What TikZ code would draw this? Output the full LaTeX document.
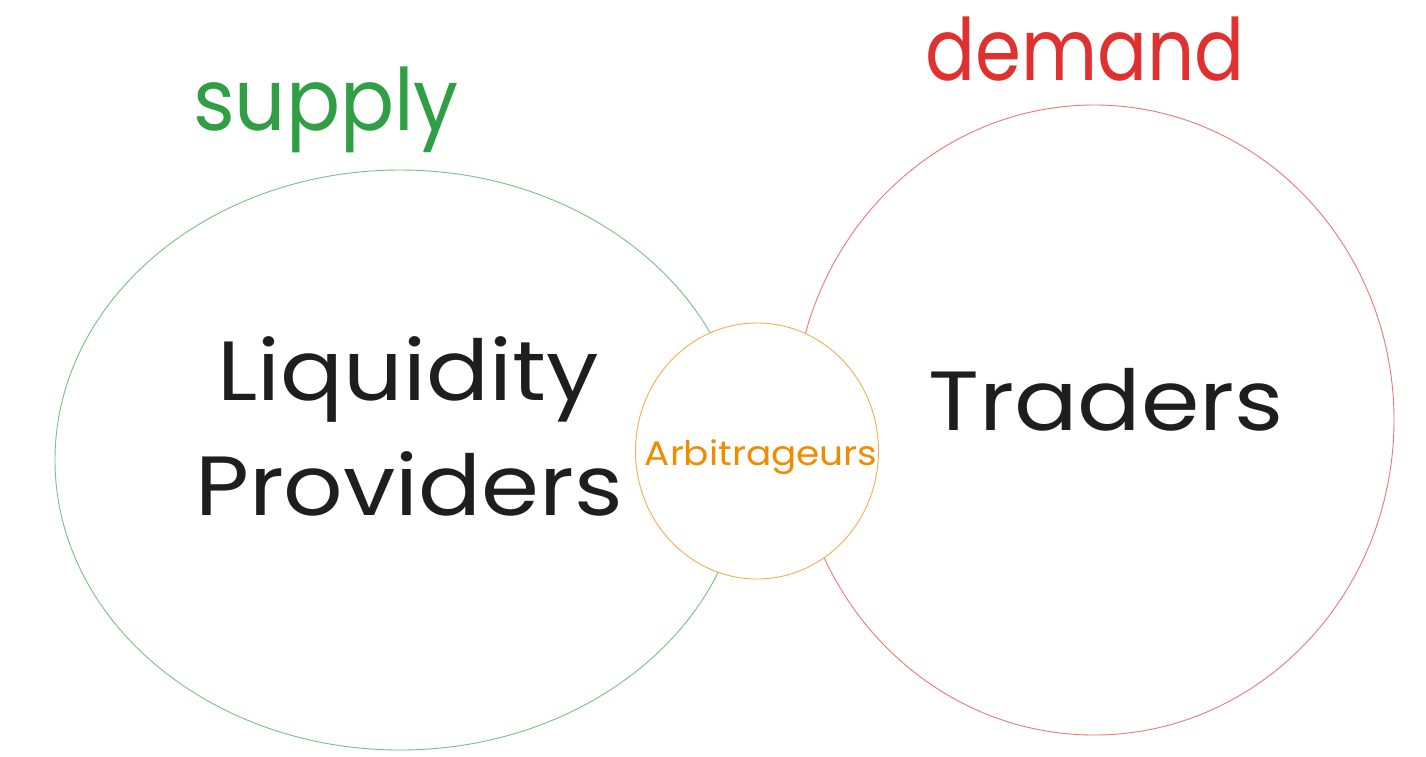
\documentclass[tikz,border=0pt]{standalone}
\usepackage{fontspec}
\setmainfont{Poppins}
\usetikzlibrary{shapes.geometric}
\definecolor{exgreen}{HTML}{2F9E44}
\definecolor{exred}{HTML}{E03131}
\definecolor{exorange}{HTML}{F08C00}
\definecolor{exblack}{HTML}{1E1E1E}
\newcommand{\hsc}[2]{\scalebox{#1}[1]{#2}}
\tikzset{
  ring/.style={ellipse, draw, line width=0.9pt, inner sep=0pt},
  bigtxt/.style={anchor=base, text=exblack, font=\fontsize{84}{100}\selectfont},
  headtxt/.style={anchor=base, font=\fontsize{86}{100}\selectfont},
}
\begin{document}
\begin{tikzpicture}[x=1pt,y=-1pt]
\useasboundingbox (0,0) rectangle (1426,756);
\fill[white] (0,0) rectangle (1426,756);
\node[ring, draw=exgreen!65, minimum width=690pt, minimum height=580pt] (lp) at (400,460) {};
\node[ring, draw=exred!65, minimum width=600pt, minimum height=630pt] (tr) at (1094,420) {};
\node[ring, draw=exorange!70, fill=white, minimum width=243pt, minimum height=256pt] (ar) at (757,451) {};
\node[headtxt, text=exgreen] (sup) at (326,130) {\hsc{0.93}{supply}};
\node[headtxt, text=exred] (dem) at (1085,80) {\hsc{0.86}{demand}};
\node[bigtxt] (liq) at (408,400) {\hsc{1.11}{Liquidity}};
\node[bigtxt] (prov) at (409,515) {\hsc{1.11}{Providers}};
\node[bigtxt] (trd) at (1106,430) {\hsc{1.12}{Traders}};
\node[anchor=base, text=exorange, font=\fontsize{34}{40}\selectfont] (arb) at (761,465) {\hsc{1.1}{Arbitrageurs}};
\end{tikzpicture}
\end{document}
